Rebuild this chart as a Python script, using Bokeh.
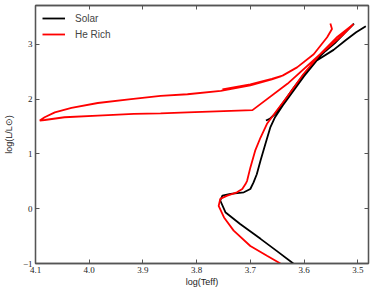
from bokeh.plotting import figure
from bokeh.models import Range1d, LinearAxis, FixedTicker, PrintfTickFormatter
from bokeh.embed import file_html
from bokeh.resources import INLINE

nan = float("nan")

# Solar track: MS -> RGB tip, (break), clump -> AGB
solar_logT = [3.620, 3.651, 3.681, 3.719, 3.746, 3.756, 3.752, 3.737, 3.712, 3.700,
              3.694, 3.688, 3.681, 3.672, 3.663, 3.654, 3.640, 3.620, 3.600, 3.577,
              3.545, 3.522, 3.503, 3.485,
              nan,
              3.671, 3.664, 3.655, 3.640, 3.620, 3.600, 3.577, 3.560, 3.543, 3.525, 3.507]
solar_logL = [-1.00, -0.77, -0.55, -0.28, -0.07, 0.15, 0.24, 0.27, 0.30, 0.36,
              0.48, 0.63, 0.88, 1.18, 1.48, 1.67, 1.88, 2.15, 2.42, 2.70,
              2.90, 3.08, 3.22, 3.33,
              nan,
              1.61, 1.64, 1.72, 1.92, 2.20, 2.46, 2.72, 2.88, 3.02, 3.20, 3.38]

# He-rich track: MS -> RGB tip -> ZAHB -> blue loop -> AGB
herich_logT = [3.644, 3.669, 3.700, 3.731, 3.749, 3.759, 3.756, 3.743, 3.725, 3.715,
               3.709, 3.706, 3.700, 3.691, 3.681, 3.669, 3.651, 3.631, 3.601, 3.570,
               3.540, 3.508,
               3.526, 3.570, 3.631, 3.696,
               3.817, 3.867, 3.917, 3.984, 4.046, 4.083, 4.092,
               4.083, 4.064, 4.033, 3.984, 3.922, 3.867, 3.817, 3.755, 3.700, 3.660, 3.642,
               3.690, 3.752,
               3.700, 3.660, 3.640,
               3.613, 3.582, 3.557, 3.548, 3.551]
herich_logL = [-1.00, -0.86, -0.68, -0.40, -0.16, 0.05, 0.18, 0.24, 0.30, 0.36,
               0.45, 0.51, 0.75, 1.06, 1.30, 1.55, 1.79, 2.05, 2.46, 2.82,
               3.12, 3.37,
               3.19, 2.82, 2.28, 1.80,
               1.76, 1.74, 1.73, 1.70, 1.67, 1.62, 1.61,
               1.67, 1.76, 1.84, 1.93, 2.00, 2.06, 2.09, 2.15, 2.25, 2.36, 2.42,
               2.28, 2.18,
               2.27, 2.37, 2.43,
               2.58, 2.82, 3.13, 3.28, 3.38]

x_ticks = [3.5, 3.6, 3.7, 3.8, 3.9, 4.0, 4.1]
y_ticks = [-1, 0, 1, 2, 3]
x_title = "log(Teff)"
y_title = "log(L/L\u2299)"

AX = "#555555"
TC = "#222222"

p = figure(width=370, height=290, output_backend="svg", toolbar_location=None,
           x_range=Range1d(4.1, 3.48), y_range=Range1d(-1, 3.71),
           min_border_left=34, min_border_right=2, min_border_top=5, min_border_bottom=27)
p.grid.visible = False
p.outline_line_color = AX
p.outline_line_width = 1.3

p.line(solar_logT, solar_logL, color="black", line_width=1.8, legend_label="Solar")
p.line(herich_logT, herich_logL, color="#ff0000", line_width=1.8, legend_label="He Rich")

# mirrored axes (ticks only)
p.add_layout(LinearAxis(), "above")
p.add_layout(LinearAxis(), "right")

for ax in p.xaxis:
    ax.ticker = FixedTicker(ticks=x_ticks)
    ax.formatter = PrintfTickFormatter(format="%.1f")
for ax in p.yaxis:
    ax.ticker = FixedTicker(ticks=y_ticks)
    ax.major_label_overrides = {-1: "\u22121"}

for ax in p.axis:
    ax.axis_line_color = AX
    ax.axis_line_width = 1.3
    ax.major_tick_line_color = AX
    ax.major_tick_line_width = 1.0
    ax.major_tick_in = 4
    ax.major_tick_out = 0
    ax.minor_tick_line_color = None
    ax.major_label_text_font = "Liberation Serif"
    ax.major_label_text_font_size = "9px"
    ax.major_label_text_color = TC
    ax.major_label_standoff = 3

for ax in (p.above[0], p.right[-1]):
    ax.major_label_text_color = None
    ax.major_label_standoff = 0

p.below[0].axis_label = x_title
p.below[0].axis_label_standoff = 1
p.left[0].axis_label = y_title
p.left[0].axis_label_standoff = 6
for ax in (p.below[0], p.left[0]):
    ax.axis_label_text_font = "Liberation Sans"
    ax.axis_label_text_font_size = "9px"
    ax.axis_label_text_font_style = "normal"
    ax.axis_label_text_color = TC

lg = p.legend[0]
lg.location = "top_left"
lg.border_line_color = None
lg.background_fill_alpha = 0
lg.label_text_font = "Liberation Sans"
lg.label_text_font_size = "10px"
lg.glyph_width = 23
lg.glyph_height = 12
lg.label_height = 12
lg.spacing = 4
lg.margin = 7
lg.padding = 5
lg.label_standoff = 10

open("out.html", "w").write(file_html(p, INLINE))
